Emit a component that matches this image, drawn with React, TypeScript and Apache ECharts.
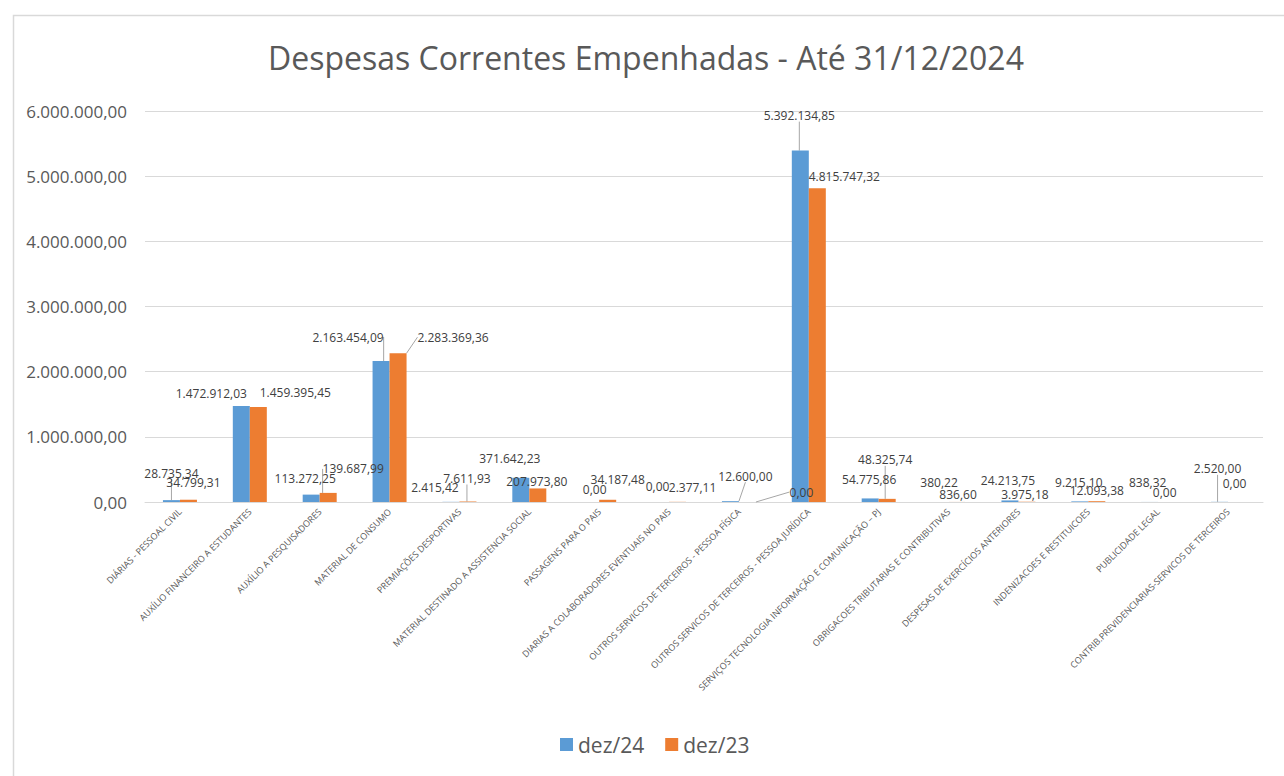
import React, { useEffect, useRef } from "react";
import * as echarts from "echarts";

const TITLE = "Despesas Correntes Empenhadas - Até 31/12/2024";
const SERIES_NAMES = ["dez/24", "dez/23"];
const CATEGORIES = [
  "DIÁRIAS - PESSOAL CIVIL",
  "AUXÍLIO FINANCEIRO A ESTUDANTES",
  "AUXÍLIO A PESQUISADORES",
  "MATERIAL DE CONSUMO",
  "PREMIAÇÕES DESPORTIVAS",
  "MATERIAL DESTINADO A ASSISTENCIA SOCIAL",
  "PASSAGENS PARA O PAIS",
  "DIARIAS A COLABORADORES EVENTUAIS NO PAIS",
  "OUTROS SERVICOS DE TERCEIROS - PESSOA FÍSICA",
  "OUTROS SERVICOS DE TERCEIROS - PESSOA JURÍDICA",
  "SERVIÇOS TECNOLOGIA INFORMAÇÃO E COMUNICAÇÃO – PJ",
  "OBRIGACOES TRIBUTARIAS E CONTRIBUTIVAS",
  "DESPESAS DE EXERCÍCIOS ANTERIORES",
  "INDENIZACOES E RESTITUICOES",
  "PUBLICIDADE LEGAL",
  "CONTRIB.PREVIDENCIARIAS-SERVICOS DE TERCEIROS",
];
const DEZ24 = [
  28735.34, 1472912.03, 113272.25, 2163454.09, 2415.42, 371642.23, 0, 0,
  12600.0, 5392134.85, 54775.86, 380.22, 24213.75, 9215.1, 838.32, 2520.0,
];
const DEZ23 = [
  34799.31, 1459395.45, 139687.99, 2283369.36, 7611.93, 207973.8, 34187.48,
  2377.11, 0, 4815747.32, 48325.74, 836.6, 3975.18, 12093.38, 0, 0,
];
const Y_MIN = 0;
const Y_MAX = 6000000;
const Y_INTERVAL = 1000000;

// label layout tweaks (dx, dy) mimicking the hand-placed labels
const SHIFT24 = [
  [0, -16], [-30, -2], [-6, -5], [-33, -13], [-16, -3], [-11, -8], [4, -2], [-3, -5],
  [15, -14], [-1, -24], [-1, -8], [-1, -8], [-2, -9], [-1, -8], [-2, -8], [-2, -22],
];
const SHIFT23 = [
  [5, -6], [37, -3], [25, -13], [55, -5], [-1, -12], [-1, 4], [10, -9], [15, -3],
  [54, 1], [27, -1], [-2, -28], [1, 4], [-2, 4], [0, 0], [-2, 1], [-2, -8],
];
const LEADER24 = [true, false, false, true, false, false, false, false, true, true, false, false, false, false, false, true];
const LEADER23 = [false, false, true, true, true, false, false, false, true, false, true, false, false, false, false, false];

const fmtBR = (v: number) => {
  const [i, d] = Math.abs(v).toFixed(2).split(".");
  return (v < 0 ? "-" : "") + i.replace(/\B(?=(\d{3})+(?!\d))/g, ".") + "," + d;
};

const FONT = "'Open Sans', 'Noto Sans', sans-serif";
const TEXT = "#595959";

export default function App() {
  const ref = useRef<HTMLDivElement>(null);
  useEffect(() => {
    if (!ref.current) return;
    const chart = echarts.init(ref.current, undefined, { renderer: "svg" });
    const mkData = (vals: number[], leaders: boolean[]) =>
      vals.map((v, i) => ({
        value: v,
        labelLine: { show: leaders[i] },
      }));
    const mkSeries = (name: string, vals: number[], color: string, shifts: number[][], leaders: boolean[]) => ({
      name,
      type: "bar",
      barWidth: 17,
      barGap: "0%",
      itemStyle: { color },
      data: mkData(vals, leaders),
      label: {
        show: true,
        position: "top",
        distance: 5,
        fontFamily: FONT,
        fontSize: 12,
        color: "#404040",
        formatter: (p: any) => fmtBR(p.value),
      },
      labelLine: {
        show: false,
        lineStyle: { color: "#A6A6A6", width: 1 },
      },
      labelLayout: (p: any) => ({
        dx: shifts[p.dataIndex][0],
        dy: shifts[p.dataIndex][1],
      }),
    });
    chart.setOption({
      animation: false,
      backgroundColor: "#ffffff",
      textStyle: { fontFamily: FONT },
      title: {
        text: TITLE,
        left: 268,
        top: 41,
        padding: 0,
        textStyle: { fontFamily: FONT, fontSize: 32, fontWeight: "normal", color: TEXT },
      },
      legend: {
        bottom: 21,
        left: 560,
        padding: 0,
        icon: "rect",
        itemWidth: 13,
        itemHeight: 13,
        itemGap: 21,
        textStyle: { fontFamily: FONT, fontSize: 21, color: TEXT },
        data: SERIES_NAMES,
      },
      grid: { left: 145, right: 21, top: 111, bottom: 274, containLabel: false },
      xAxis: {
        type: "category",
        data: CATEGORIES,
        axisLine: { lineStyle: { color: "#D9D9D9", width: 1 } },
        axisTick: { show: false },
        axisLabel: {
          interval: 0,
          rotate: 45,
          fontFamily: FONT,
          fontSize: 9,
          color: TEXT,
          margin: 8,
        },
      },
      yAxis: {
        type: "value",
        min: Y_MIN,
        max: Y_MAX,
        interval: Y_INTERVAL,
        axisLine: { show: false },
        axisTick: { show: false },
        splitLine: { lineStyle: { color: "#D9D9D9", width: 1 } },
        axisLabel: {
          fontFamily: FONT,
          fontSize: 17,
          color: TEXT,
          margin: 18,
          formatter: (v: number) => fmtBR(v),
        },
      },
      graphic: [
        {
          type: "rect",
          left: 11,
          top: 13,
          shape: { x: 0, y: 0, width: 1300, height: 800 },
          style: { fill: "none", stroke: "#D9D9D9", lineWidth: 1.5 },
          silent: true,
          z: -1,
        },
      ],
      series: [
        mkSeries(SERIES_NAMES[0], DEZ24, "#5B9BD5", SHIFT24, LEADER24),
        mkSeries(SERIES_NAMES[1], DEZ23, "#ED7D31", SHIFT23, LEADER23),
      ],
    });
    return () => chart.dispose();
  }, []);
  return (
    <div
      ref={ref}
      style={{ position: "absolute", left: 0, top: 0, width: 1284, height: 776, background: "#fff" }}
    />
  );
}
